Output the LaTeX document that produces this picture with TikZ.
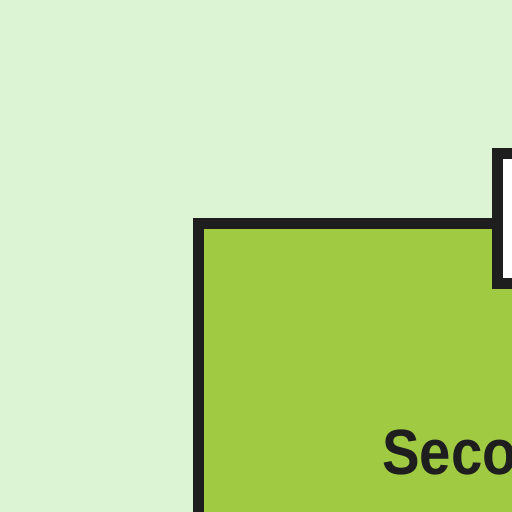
\documentclass[tikz,border=0pt]{standalone}
\usepackage{fontspec}
\newfontfamily\labelfont[FakeStretch=0.88]{Liberation Sans}
\definecolor{bgc}{RGB}{220,244,212}
\definecolor{boxgreen}{RGB}{160,202,66}
\definecolor{edge}{RGB}{30,30,30}
\begin{document}
\begin{tikzpicture}[x=1pt,y=-1pt,
  boxstyle/.style={draw=edge,line width=11pt,line join=miter}]
\clip (0,0) rectangle (512,512);
\fill[bgc] (0,0) rectangle (512,512);
\useasboundingbox (0,0) rectangle (512,512);
\draw[boxstyle,fill=boxgreen] (198,223) rectangle (700,700);
\draw[boxstyle,fill=white] (497,153) rectangle (700,283.5);
\node[anchor=base west,inner sep=0pt,font=\labelfont\bfseries\fontsize{64}{70}\selectfont,text=edge] (lbl) at (382,474) {Seco};
\end{tikzpicture}
\end{document}
